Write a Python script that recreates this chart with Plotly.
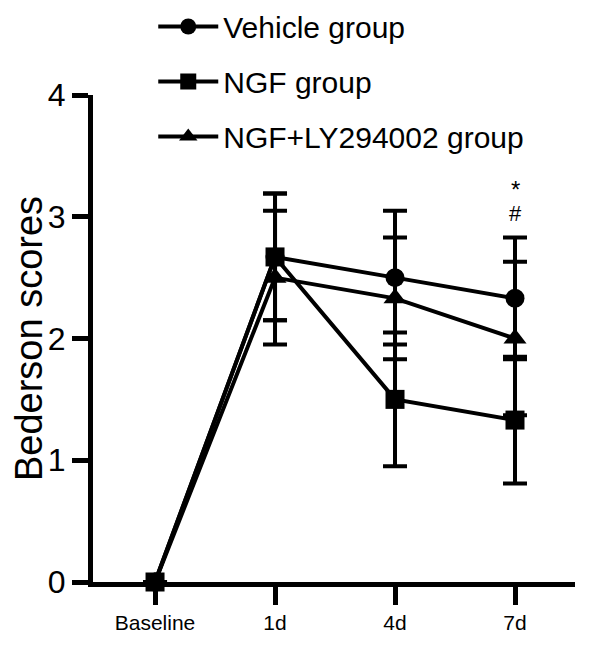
import plotly.graph_objects as go

categories = ["Baseline", "1d", "4d", "7d"]
vehicle = [0, 2.67, 2.5, 2.33]
vehicle_err = [0, 0.52, 0.55, 0.5]
ngf = [0, 2.67, 1.5, 1.33]
ngf_err = [0, 0.52, 0.55, 0.52]
ngf_ly = [0, 2.5, 2.33, 2.0]
ngf_ly_err = [0, 0.55, 0.5, 0.63]
series_names = ["Vehicle group", "NGF group", "NGF+LY294002 group"]
y_ticks = [0, 1, 2, 3, 4]

FONT = "Liberation Sans, Arial, sans-serif"

fig = go.Figure()
symbols = ["circle", "square", "triangle-up"]
data = [(vehicle, vehicle_err), (ngf, ngf_err), (ngf_ly, ngf_ly_err)]
for i, ((vals, errs), name, sym) in enumerate(zip(data, series_names, symbols)):
    fig.add_trace(go.Scatter(
        x=categories, y=vals, name=name, mode="lines+markers",
        line=dict(color="black", width=4),
        marker=dict(symbol=sym, size=19 if sym != "triangle-up" else 20, color="black"),
        error_y=dict(type="data", array=errs, visible=True, color="black", thickness=4, width=12),
        cliponaxis=False, legendgroup=f"g{i}",
    ))

# significance marks above the 7d error bars
top7 = vehicle[3] + vehicle_err[3]
fig.add_annotation(x=categories[3], y=top7, text="#", showarrow=False, yshift=24,
                   font=dict(family=FONT, size=22, color="black"))
fig.add_annotation(x=categories[3], y=top7, text="*", showarrow=False, yshift=48,
                   font=dict(family=FONT, size=24, color="black"))

fig.update_layout(
    width=600, height=646,
    margin=dict(l=85, r=33, t=87, b=72, autoexpand=False),
    paper_bgcolor="white", plot_bgcolor="white",
    font=dict(family=FONT, color="black"),
    showlegend=True,
    legend=dict(x=0.125, y=1.194, xanchor="left", yanchor="top",
                font=dict(family=FONT, size=30), tracegroupgap=13, itemwidth=60,
                bgcolor="rgba(0,0,0,0)"),
    xaxis=dict(type="category", range=[-0.517, 3.5], showline=True, linecolor="black",
               linewidth=5, ticks="outside", ticklen=18, tickwidth=5, tickcolor="black",
               showgrid=False, zeroline=False, tickfont=dict(family=FONT, size=21)),
    yaxis=dict(range=[0, 4], tickvals=y_ticks, showline=True, linecolor="black",
               linewidth=5, ticks="outside", ticklen=16, tickwidth=5, tickcolor="black",
               showgrid=False, zeroline=False, tickfont=dict(family=FONT, size=32),
               title=dict(text="Bederson scores", font=dict(family=FONT, size=38), standoff=6)),
)

fig.write_html("out.html")
